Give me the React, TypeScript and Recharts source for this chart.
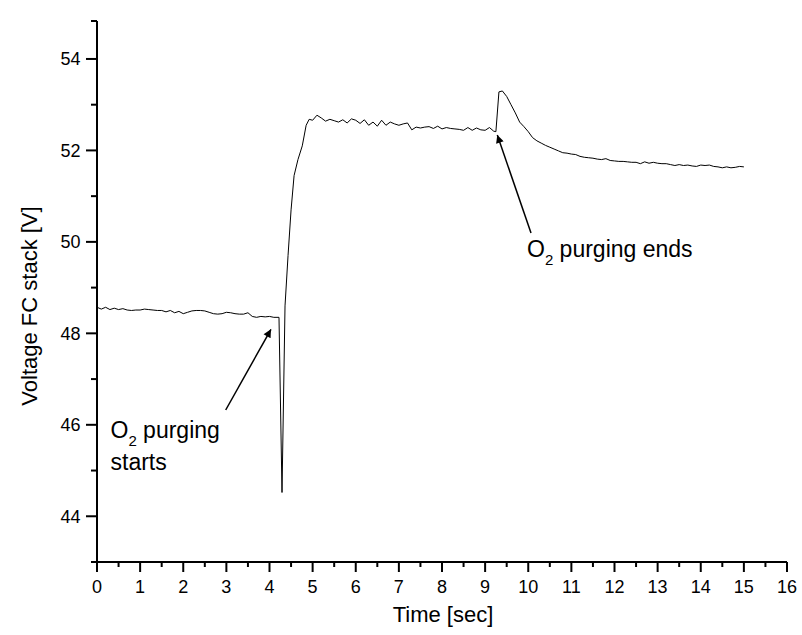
import React from 'react';
import { LineChart, Line, XAxis, YAxis } from 'recharts';

// Time [sec]
const times: number[] = [
  0.0, 0.1, 0.2, 0.3, 0.4, 0.5, 0.6, 0.7, 0.8, 0.9,
  1.0, 1.1, 1.2, 1.3, 1.4, 1.5, 1.6, 1.7, 1.8, 1.9,
  2.0, 2.1, 2.2, 2.3, 2.4, 2.5, 2.6, 2.7, 2.8, 2.9,
  3.0, 3.1, 3.2, 3.3, 3.4, 3.5, 3.6, 3.7, 3.8, 3.9,
  4.0, 4.1, 4.22, 4.29, 4.36, 4.43, 4.5, 4.57, 4.66, 4.76, 4.85, 4.92,
  5.0, 5.1, 5.2, 5.3, 5.4, 5.5, 5.6, 5.7, 5.8, 5.9,
  6.0, 6.1, 6.2, 6.3, 6.4, 6.5, 6.6, 6.7, 6.8, 6.9,
  7.0, 7.1, 7.2, 7.3, 7.4, 7.5, 7.6, 7.7, 7.8, 7.9,
  8.0, 8.1, 8.2, 8.3, 8.4, 8.5, 8.6, 8.7, 8.8, 8.9,
  9.0, 9.1, 9.2, 9.25, 9.32, 9.4, 9.5, 9.6, 9.7, 9.8, 9.9,
  10.0, 10.1, 10.2, 10.3, 10.4, 10.5, 10.6, 10.7, 10.8, 10.9,
  11.0, 11.1, 11.2, 11.3, 11.4, 11.5, 11.6, 11.7, 11.8, 11.9,
  12.0, 12.1, 12.2, 12.3, 12.4, 12.5, 12.6, 12.7, 12.8, 12.9,
  13.0, 13.1, 13.2, 13.3, 13.4, 13.5, 13.6, 13.7, 13.8, 13.9,
  14.0, 14.1, 14.2, 14.3, 14.4, 14.5, 14.6, 14.7, 14.8, 14.9,
  15.0,
];

// Voltage FC stack [V]
const voltages: number[] = [
  48.57, 48.53, 48.57, 48.52, 48.55, 48.52, 48.54, 48.51, 48.50, 48.51,
  48.51, 48.53, 48.52, 48.51, 48.50, 48.50, 48.47, 48.50, 48.45, 48.48,
  48.43, 48.46, 48.49, 48.50, 48.50, 48.49, 48.46, 48.43, 48.42, 48.43,
  48.46, 48.45, 48.43, 48.42, 48.42, 48.45, 48.37, 48.35, 48.37, 48.36,
  48.37, 48.35, 48.35, 44.52, 48.6, 49.7, 50.7, 51.45, 51.8, 52.1, 52.55, 52.68,
  52.66, 52.77, 52.71, 52.64, 52.68, 52.65, 52.62, 52.67, 52.60, 52.69,
  52.66, 52.59, 52.67, 52.55, 52.62, 52.53, 52.66, 52.55, 52.62, 52.58,
  52.55, 52.58, 52.60, 52.45, 52.51, 52.49, 52.51, 52.52, 52.48, 52.53,
  52.47, 52.50, 52.48, 52.47, 52.46, 52.44, 52.50, 52.44, 52.49, 52.45,
  52.44, 52.50, 52.42, 52.41, 53.28, 53.30, 53.18, 53.00, 52.82, 52.62, 52.52,
  52.41, 52.28, 52.21, 52.16, 52.11, 52.07, 52.03, 51.99, 51.95, 51.94,
  51.92, 51.91, 51.87, 51.85, 51.84, 51.83, 51.81, 51.80, 51.82, 51.78,
  51.77, 51.76, 51.76, 51.75, 51.74, 51.74, 51.71, 51.75, 51.72, 51.74,
  51.72, 51.71, 51.71, 51.69, 51.67, 51.69, 51.67, 51.68, 51.66, 51.65,
  51.68, 51.67, 51.68, 51.65, 51.64, 51.62, 51.64, 51.62, 51.63, 51.65,
  51.64,
];

const xTicks: number[] = [
  0, 0.5, 1, 1.5, 2, 2.5, 3, 3.5, 4, 4.5, 5, 5.5, 6, 6.5, 7, 7.5, 8,
  8.5, 9, 9.5, 10, 10.5, 11, 11.5, 12, 12.5, 13, 13.5, 14, 14.5, 15, 15.5, 16,
];
const yTicks: number[] = [43, 44, 45, 46, 47, 48, 49, 50, 51, 52, 53, 54, 54.83];
const xDomain: [number, number] = [0, 16];
const yDomain: [number, number] = [43, 54.83];

const xTitle = 'Time [sec]';
const yTitle = 'Voltage FC stack [V]';

const data = times.map((t, i) => ({ t, v: voltages[i] }));

const FONT = '"Liberation Sans", Arial, Helvetica, sans-serif';

const XTick = (props: any) => {
  const { x, y, payload } = props;
  const v = payload.value;
  const major = Number.isInteger(v);
  return (
    <g>
      <line x1={x} x2={x} y1={y} y2={y + (major ? 10 : 5)} stroke="#000" strokeWidth={2} />
      {major && (
        <text x={x} y={y + 30.5} textAnchor="middle" fontSize={18} fontFamily={FONT} fill="#000">
          {v}
        </text>
      )}
    </g>
  );
};

const YTick = (props: any) => {
  const { x, y, payload } = props;
  const v = payload.value;
  const major = v % 2 === 0;
  return (
    <g>
      <line x1={x} x2={x - (major ? 11 : 6)} y1={y} y2={y} stroke="#000" strokeWidth={2} />
      {major && (
        <text x={x - 16.5} y={y + 6.4} textAnchor="end" fontSize={18} fontFamily={FONT} fill="#000">
          {v}
        </text>
      )}
    </g>
  );
};

export default function App() {
  return (
    <div style={{ position: 'absolute', left: 0, top: 0, width: 802, height: 635, background: '#fff' }}>
      <LineChart width={802} height={635} data={data} margin={{ top: 21, right: 15, bottom: 0, left: 0 }}>
        <XAxis
          dataKey="t"
          type="number"
          domain={xDomain}
          ticks={xTicks}
          interval={0}
          height={73}
          axisLine={{ stroke: '#000', strokeWidth: 2 }}
          tickLine={false}
          tickSize={0}
          tickMargin={0}
          tick={<XTick />}
        />
        <YAxis
          type="number"
          domain={yDomain}
          ticks={yTicks}
          interval={0}
          width={97}
          axisLine={{ stroke: '#000', strokeWidth: 2 }}
          tickLine={false}
          tickSize={0}
          tickMargin={0}
          tick={<YTick />}
        />
        <Line
          dataKey="v"
          type="linear"
          stroke="#000"
          strokeWidth={1}
          dot={false}
          isAnimationActive={false}
        />
      </LineChart>
      <svg
        width={802}
        height={635}
        style={{ position: 'absolute', left: 0, top: 0, pointerEvents: 'none' }}
        fontFamily={FONT}
      >
        <defs>
          <marker id="ah" viewBox="0 0 10 10" refX="10" refY="5" markerWidth="11" markerHeight="8" markerUnits="userSpaceOnUse" orient="auto">
            <path d="M0,0 L10,5 L0,10 z" fill="#000" />
          </marker>
        </defs>
        <text x={443} y={622} textAnchor="middle" fontSize={22} fill="#000">{xTitle}</text>
        <text transform="translate(37,306) rotate(-90)" textAnchor="middle" fontSize={22} fill="#000">{yTitle}</text>

        <line x1={225.7} y1={410} x2={271} y2={329.3} stroke="#000" strokeWidth={1.5} markerEnd="url(#ah)" />
        <text x={110.5} y={438.3} fontSize={23} fill="#000">
          O<tspan fontSize={15} dy={8}>2</tspan><tspan dy={-8}> purging</tspan>
        </text>
        <text x={110.5} y={470} fontSize={23} fill="#000">starts</text>

        <line x1={531} y1={233} x2={497.3} y2={135} stroke="#000" strokeWidth={1.5} markerEnd="url(#ah)" />
        <text x={527} y={257} fontSize={23} fill="#000">
          O<tspan fontSize={15} dy={8}>2</tspan><tspan dy={-8}> purging ends</tspan>
        </text>
      </svg>
    </div>
  );
}
